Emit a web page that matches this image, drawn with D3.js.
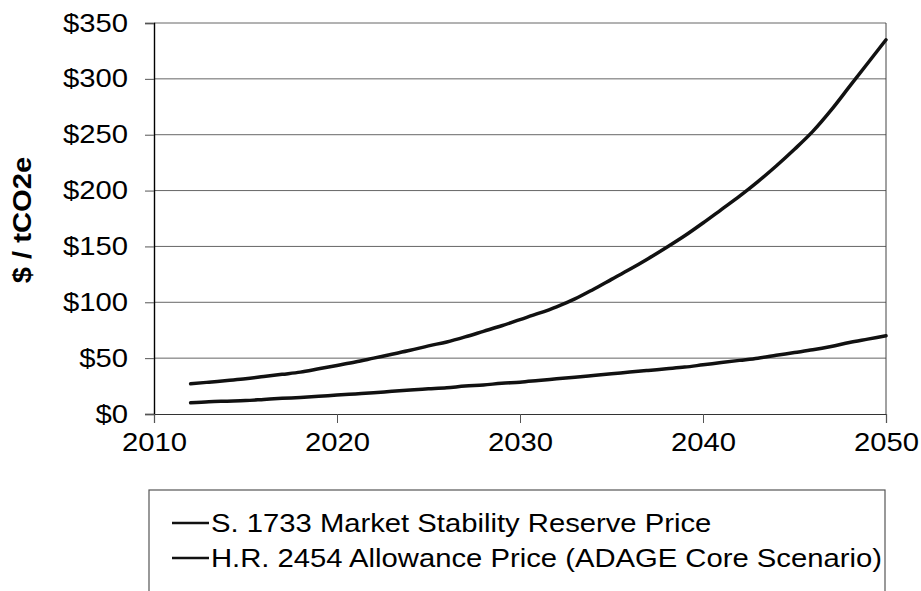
<!DOCTYPE html>
<html>
<head>
<meta charset="utf-8">
<script src="https://cdn.jsdelivr.net/npm/d3@7/dist/d3.min.js"></script>
<style>
  html, body { margin: 0; padding: 0; background: #fff; }
  svg { display: block; font-family: "Liberation Sans", Arial, sans-serif; }
</style>
</head>
<body>
<svg id="chart" width="921" height="591"></svg>
<script>
const years = [2012,2013,2014,2015,2016,2017,2018,2019,2020,2021,2022,2023,2024,2025,2026,2027,2028,2029,2030,2031,2032,2033,2034,2035,2036,2037,2038,2039,2040,2041,2042,2043,2044,2045,2046,2047,2048,2049,2050];
const s1733 = [27,28.5,30,31.5,33.5,35.5,37.5,40.5,43.5,46.5,50,53.5,57,61,64.5,69,74,79,84.5,90,96,103,111.5,120.5,129.5,139,149,159.5,171,183,195,208,222,237,253,272,293,314,335];
const hr2454 = [10,11,11.5,12,13,14,14.8,15.8,17,18,19,20.3,21.5,22.5,23.5,25,26,27.5,28.5,30,31.5,33,34.5,36,37.5,39,40.5,42,44,46,48,50,52.5,55,57.5,60.5,64,67,70];
const seriesNames = ["S. 1733 Market Stability Reserve Price", "H.R. 2454 Allowance Price (ADAGE Core Scenario)"];
const yTicks = [0,50,100,150,200,250,300,350];
const xTicks = [2010,2020,2030,2040,2050];
const yTitle = "$ / tCO2e";

const FS = 25;       // font size
const SX = 1.17;     // horizontal stretch of the glyphs seen in the reference

const svg = d3.select("#chart");
const pL = 154, pR = 886, pT = 23, pB = 414;
const x = d3.scaleLinear().domain([2010, 2050]).range([pL, pR]);
const y = d3.scaleLinear().domain([0, 350]).range([pB, pT]);

// gridlines
svg.append("g").selectAll("line").data(yTicks.filter(d => d > 0)).join("line")
  .attr("x1", pL).attr("x2", pR)
  .attr("y1", d => y(d)).attr("y2", d => y(d))
  .attr("stroke", "#666").attr("stroke-width", 1);

// right border
svg.append("line").attr("x1", pR).attr("x2", pR).attr("y1", pT).attr("y2", pB)
  .attr("stroke", "#444").attr("stroke-width", 1);

// y axis
const yAxis = d3.axisLeft(y).tickValues(yTicks).tickSize(9).tickPadding(17)
  .tickFormat(d => "$" + d);
const gy = svg.append("g").attr("transform", `translate(${pL},0)`).call(yAxis);
gy.select(".domain").attr("stroke", "#000").attr("stroke-width", 1.4);
gy.selectAll(".tick line").attr("stroke", "#555");
gy.selectAll(".tick text").attr("font-size", FS).attr("fill", "#000")
  .attr("font-family", "Liberation Sans, Arial, sans-serif")
  .attr("transform", `translate(-26,0) scale(${SX},1) translate(26,0)`);

// x axis
const xAxis = d3.axisBottom(x).tickValues(xTicks).tickSize(9).tickPadding(10)
  .tickFormat(d3.format("d"));
const gx = svg.append("g").attr("transform", `translate(0,${pB})`).call(xAxis);
gx.select(".domain").attr("stroke", "#333").attr("stroke-width", 1.2);
gx.selectAll(".tick line").attr("stroke", "#555");
gx.selectAll(".tick text").attr("font-size", FS).attr("fill", "#000")
  .attr("font-family", "Liberation Sans, Arial, sans-serif")
  .attr("transform", `scale(${SX},1)`);

// y title
svg.append("text")
  .attr("transform", `translate(31,220) rotate(-90) scale(${SX},1)`)
  .attr("text-anchor", "middle")
  .attr("font-size", FS).attr("font-weight", "bold")
  .text(yTitle);

// lines
const line = d3.line().x((d, i) => x(years[i])).y(d => y(d)).curve(d3.curveMonotoneX);
[s1733, hr2454].forEach(s => {
  svg.append("path").datum(s).attr("d", line)
    .attr("fill", "none").attr("stroke", "#111").attr("stroke-width", 3.5)
    .attr("stroke-linejoin", "round").attr("stroke-linecap", "round");
});

// legend
const lg = svg.append("g");
lg.append("rect").attr("x", 149).attr("y", 490).attr("width", 736).attr("height", 130)
  .attr("fill", "#fff").attr("stroke", "#555").attr("stroke-width", 1.2);
const rowY = [523, 558];
seriesNames.forEach((name, i) => {
  lg.append("line").attr("x1", 172).attr("x2", 209).attr("y1", rowY[i]).attr("y2", rowY[i])
    .attr("stroke", "#111").attr("stroke-width", 2.5);
  lg.append("text").attr("x", 0).attr("y", 0).attr("dy", "0.35em")
    .attr("transform", `translate(211,${rowY[i]}) scale(${SX},1)`)
    .attr("font-size", FS).text(name);
});
</script>
</body>
</html>
